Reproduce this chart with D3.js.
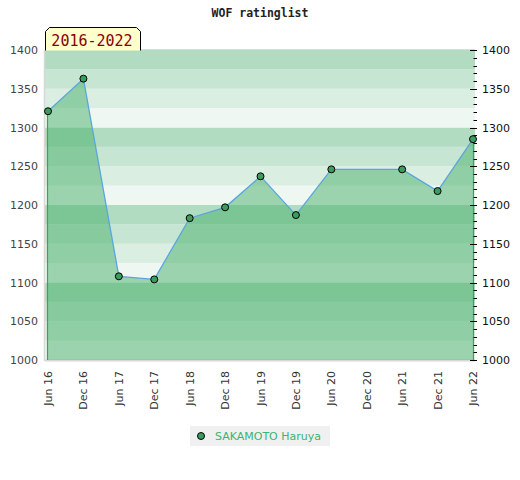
<!DOCTYPE html>
<html><head><meta charset="utf-8">
<script src="https://cdn.jsdelivr.net/npm/d3@7"></script>
<style>body{margin:0;background:#fff}svg{display:block}</style>
</head><body>
<script>
const tickLabels = ["Jun 16","Dec 16","Jun 17","Dec 17","Jun 18","Dec 18","Jun 19","Dec 19","Jun 20","Dec 20","Jun 21","Dec 21","Jun 22"];
const pointIndex = [0,1,2,3,4,5,6,7,8,10,11,12];
const ratings = [1321,1363,1108,1104,1183,1197,1237,1187,1246,1246,1218,1285];
const yTicks = [1000,1050,1100,1150,1200,1250,1300,1350,1400];
const seriesName = "SAKAMOTO Haruya";
const title = "WOF ratinglist";
const periodLabel = "2016-2022";

const W=520,H=480;
const svg=d3.select("body").append("svg").attr("width",W).attr("height",H);
const L=45,R=475,T=50,B=360;
const x=d3.scaleLinear().domain([0,12]).range([48,473]);
const y=d3.scaleLinear().domain([1000,1400]).range([B,T]);

// bands
const bandCols=["#b2dcc2","#c6e5d2","#dbeee2","#eef7f1"];
const bands=d3.range(1000,1400,25);
svg.selectAll("rect.band").data(bands).enter().append("rect")
  .attr("x",L).attr("width",R-L)
  .attr("y",d=>y(d+25)).attr("height",d=>y(d)-y(d+25))
  .attr("fill",d=>bandCols[3-((d-1000)%100)/25]);

// border
svg.append("line").attr("x1",L).attr("x2",R).attr("y1",T-0.5).attr("y2",T-0.5).attr("stroke","#dcdcdc");
svg.append("line").attr("x1",L-0.5).attr("x2",L-0.5).attr("y1",T).attr("y2",B+1).attr("stroke","#d8d8d8").attr("stroke-width",1.5);
svg.append("line").attr("x1",L).attr("x2",R).attr("y1",B+0.5).attr("y2",B+0.5).attr("stroke","#d8d8d8").attr("stroke-width",2);

const pts=pointIndex.map((p,i)=>({x:x(p),y:y(ratings[i])}));
const area=d3.area().x(d=>d.x).y0(B).y1(d=>d.y);
svg.append("path").datum(pts).attr("d",area).attr("fill","rgb(70,175,105)").attr("fill-opacity",0.5);
// side strokes
svg.append("line").attr("x1",pts[0].x-0.5).attr("x2",pts[0].x-0.5).attr("y1",pts[0].y).attr("y2",B).attr("stroke","#2eaa55").attr("stroke-width",1.2);
svg.append("line").attr("x1",pts[pts.length-1].x+0.5).attr("x2",pts[pts.length-1].x+0.5).attr("y1",pts[pts.length-1].y).attr("y2",B).attr("stroke","#2eaa55").attr("stroke-width",1.2);
svg.append("path").datum(pts).attr("d",d3.line().x(d=>d.x).y(d=>d.y)).attr("fill","none").attr("stroke","#5aa5e0").attr("stroke-width",1.3);

// right axis ticks
const ax=473;
svg.selectAll("line.mt").data(d3.range(1000,1401,10)).enter().append("line")
  .attr("x1",d=>d%50===0?ax-3:ax+0.5).attr("x2",ax+4)
  .attr("y1",d=>Math.round(y(d))+0.5).attr("y2",d=>Math.round(y(d))+0.5)
  .attr("stroke","#000").attr("stroke-width",1);

// y labels
svg.selectAll("text.yl").data(yTicks).enter().append("text")
  .attr("x",38).attr("y",d=>y(d)+4).attr("text-anchor","end")
  .attr("font-family","DejaVu Sans").attr("font-size",11).attr("fill","#444").text(d=>d);
svg.selectAll("text.yr").data(yTicks).enter().append("text")
  .attr("x",482).attr("y",d=>y(d)+4).attr("text-anchor","start")
  .attr("font-family","DejaVu Sans").attr("font-size",11).attr("fill","#111").text(d=>d);

// x labels
svg.selectAll("text.xl").data(tickLabels).enter().append("text")
  .attr("transform",(d,i)=>`translate(${x(i)+4},371) rotate(-90)`)
  .attr("text-anchor","end")
  .attr("font-family","DejaVu Sans").attr("font-size",11).attr("fill","#333").text(d=>d);

// markers
svg.selectAll("circle.pt").data(pts).enter().append("circle")
  .attr("cx",d=>d.x).attr("cy",d=>d.y).attr("r",3.5)
  .attr("fill","#3a9d5d").attr("stroke","#000").attr("stroke-width",1);

// title
svg.append("text").attr("x",260).attr("y",17).attr("text-anchor","middle")
  .attr("font-family","DejaVu Sans Mono").attr("font-weight","bold").attr("font-size",11.5).attr("fill","#222").text(title);

// period label box
const bx0=45.5,bx1=140.5,by0=27.5,by1=50.5,c=4;
svg.append("path").attr("d",`M${bx0},${by1}L${bx0},${by0+c}L${bx0+c},${by0}L${bx1-c},${by0}L${bx1},${by0+c}L${bx1},${by1}`)
  .attr("fill","#ffffcc").attr("stroke","#000").attr("stroke-width",1);
svg.append("text").attr("x",92).attr("y",46).attr("text-anchor","middle")
  .attr("font-family","DejaVu Sans Mono").attr("font-size",15).attr("fill","#8b0000").text(periodLabel);

// legend
svg.append("rect").attr("x",190).attr("y",426).attr("width",140).attr("height",20).attr("fill","#f0f0f0");
svg.append("circle").attr("cx",201).attr("cy",436).attr("r",3.5).attr("fill","#3a9d5d").attr("stroke","#000");
svg.append("text").attr("x",215).attr("y",440).attr("font-family","DejaVu Sans").attr("font-size",11).attr("fill","#3cb371").text(seriesName);
</script>
</body></html>
